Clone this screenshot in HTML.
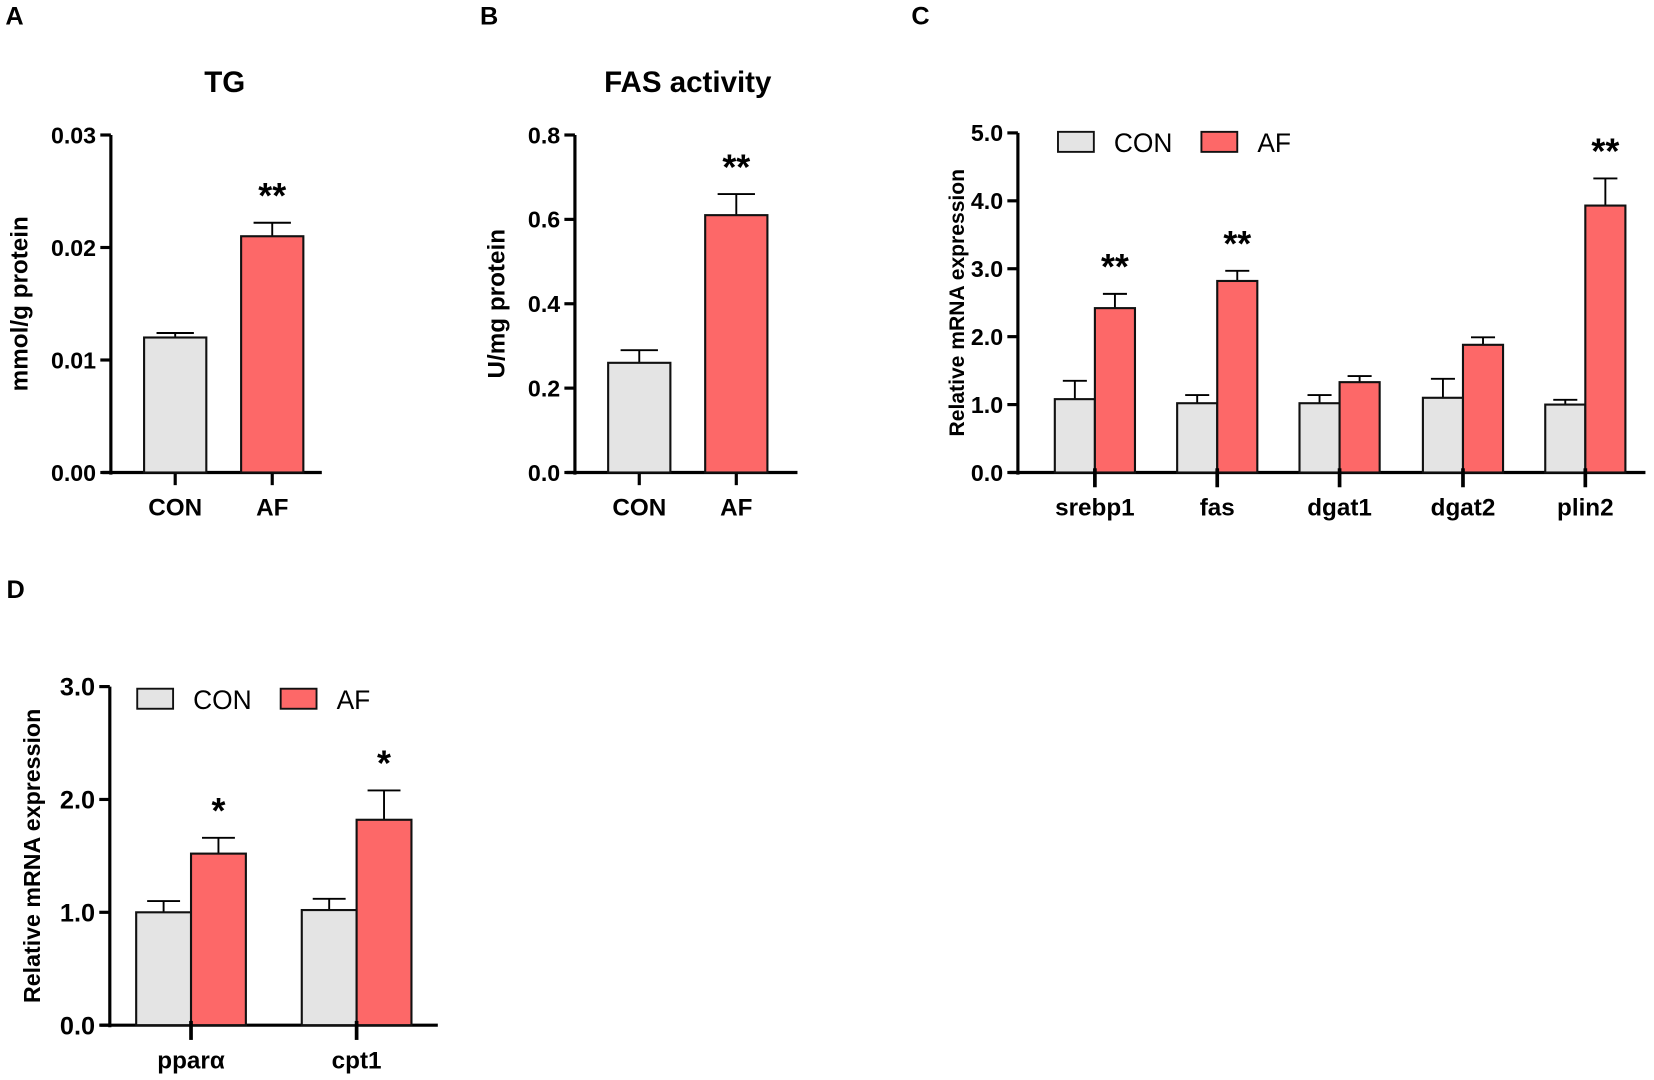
<!DOCTYPE html>
<html><head><meta charset="utf-8"><style>
html,body{margin:0;padding:0;background:#fff}
svg{display:block}
text{font-family:"Liberation Sans",Arial,sans-serif;fill:#000}
</style></head><body>
<svg id="fig" width="1654" height="1080" viewBox="0 0 1568 1024" xmlns="http://www.w3.org/2000/svg"></svg>
<script>
// Panel A data
const aCategories = ["CON","AF"];
const aValues = [0.012, 0.021];
const aErrors = [0.0004, 0.0012];
const aTicks = [0, 0.01, 0.02, 0.03];
const aTickLabels = ["0.00","0.01","0.02","0.03"];
const aStars = ["", "**"];
// Panel B data
const bCategories = ["CON","AF"];
const bValues = [0.26, 0.61];
const bErrors = [0.03, 0.05];
const bTicks = [0, 0.2, 0.4, 0.6, 0.8];
const bTickLabels = ["0.0","0.2","0.4","0.6","0.8"];
const bStars = ["", "**"];
// Panel C data
const cCategories = ["srebp1","fas","dgat1","dgat2","plin2"];
const cCon = [1.08, 1.02, 1.02, 1.10, 1.00];
const cConErr = [0.27, 0.12, 0.12, 0.28, 0.07];
const cAf = [2.42, 2.82, 1.33, 1.88, 3.93];
const cAfErr = [0.21, 0.15, 0.09, 0.11, 0.40];
const cTicks = [0,1,2,3,4,5];
const cTickLabels = ["0.0","1.0","2.0","3.0","4.0","5.0"];
const cStars = ["**","**","","","**"];
// Panel D data
const dCategories = ["pparα","cpt1"];
const dCon = [1.00, 1.02];
const dConErr = [0.10, 0.10];
const dAf = [1.52, 1.82];
const dAfErr = [0.14, 0.26];
const dTicks = [0,1,2,3];
const dTickLabels = ["0.0","1.0","2.0","3.0"];
const dStars = ["*","*"];

const NS="http://www.w3.org/2000/svg";
const svg=document.getElementById('fig');
function mk(tag,attrs,parent,txt){const e=document.createElementNS(NS,tag);for(const k in attrs)e.setAttribute(k,attrs[k]);if(txt!==undefined)e.textContent=txt;(parent||svg).appendChild(e);return e;}
const GREY="#e4e4e4", RED="#fd6868";

function yScale(ax){return v=>ax.y0-(v-ax.min)/(ax.max-ax.min)*(ax.y0-ax.yTop);}

function axes(g,ax,ticks,labels,tickFont){
  const y=yScale(ax);
  let l=mk('line',{x1:ax.x,x2:ax.x,y1:ax.yTop,y2:ax.y0+2,stroke:'#000','stroke-width':3},g);
  
  
  l=mk('line',{x1:ax.xStart,x2:ax.xEnd,y1:ax.y0,y2:ax.y0,stroke:'#000','stroke-width':3},g);
  
  
  ticks.forEach((t,i)=>{
    const ty=y(t);
    const tk=mk('line',{x1:ax.x-10,x2:ax.x,y1:ty,y2:ty,stroke:'#000','stroke-width':3},g);
    
    
    const tl=mk('text',{x:ax.x-14,y:ty+tickFont*0.36,'text-anchor':'end','font-size':tickFont,'font-weight':'bold'},g,labels[i]);
    
    
  });
}
function bar(g,x,w,v,err,color,ax,name){
  const y=yScale(ax);
  const top=y(v), et=y(v+err), cx=x+w/2;
  const e=mk('path',{d:`M${cx},${top}V${et}M${cx-w*0.3},${et}H${cx+w*0.3}`,stroke:'#000','stroke-width':1.8,fill:'none'},g);
  
  
  const r=mk('rect',{x:x,y:top,width:w,height:ax.y0-top,fill:color,stroke:'#111','stroke-width':2},g);
  
  
  return {cx,et};
}
function star(g,cx,y,s){
  if(!s)return;
  const t=mk('text',{x:cx,y:y,'text-anchor':'middle','font-size':34,'font-weight':'bold'},g,s);
  
  
}
function catLabel(g,cx,y,s){
  const t=mk('text',{x:cx,y:y,'text-anchor':'middle','font-size':23,'font-weight':'bold'},g,s);
  
  
}
function ylab(g,x,cy,s,fs){
  const t=mk('text',{x:x,y:cy,'text-anchor':'middle','font-size':fs,'font-weight':'bold',transform:`rotate(-90 ${x} ${cy})`},g,s);
  
  
}
function panelLetter(x,y,s){
  const t=mk('text',{x:x,y:y,'font-size':24,'font-weight':'bold'},svg,s);
  
  
}
function title(g,x,y,s){
  const t=mk('text',{x:x,y:y,'text-anchor':'middle','font-size':28,'font-weight':'bold'},g,s);
  
  
}
function legend(g,x,y){
  const items=[["CON",GREY,0],["AF",RED,136]];
  items.forEach(([s,c,dx])=>{
    const lg=mk('g',{},g);
    
    
    mk('rect',{x:x+dx,y:y,width:34,height:19,fill:c,stroke:'#111','stroke-width':1.8},lg);
    mk('text',{x:x+dx+53,y:y+19,'font-size':25},lg,s);
  });
}
function simple(name,ax,cats,vals,errs,ticks,labels,stars,centers,w,colors,ttl,tx,ylabel,ylx){
  const g=mk('g',{});
  
  
  title(g,tx,87,ttl);
  axes(g,ax,ticks,labels,22);
  cats.forEach((c,i)=>{
    const cx=centers[i];
    const tk=mk('line',{x1:cx,x2:cx,y1:ax.y0,y2:ax.y0+12,stroke:'#000','stroke-width':3},g);
    
    
    const b=bar(g,cx-w/2,w,vals[i],errs[i],colors[i],ax,'bar-'+c.toLowerCase());
    star(g,cx,b.et-14,stars[i]);
    catLabel(g,cx,489,c);
  });
  ylab(g,ylx,(ax.y0+ax.yTop)/2,ylabel,23);
}
simple('panel-a-tg-chart',{x:105,xStart:97,xEnd:305,y0:448,yTop:128,min:0,max:0.03},aCategories,aValues,aErrors,aTicks,aTickLabels,aStars,[166,258],59,[GREY,RED],"TG",213,"mmol/g protein",26);
simple('panel-b-fas-chart',{x:545,xStart:537,xEnd:756,y0:448,yTop:128,min:0,max:0.8},bCategories,bValues,bErrors,bTicks,bTickLabels,bStars,[606,698],59,[GREY,RED],"FAS activity",652,"U/mg protein",478);

function grouped(name,ax,cats,con,conE,af,afE,ticks,labels,stars,centers,w,ylx,lx,ly,catY,tf,yf){
  const g=mk('g',{});
  
  
  axes(g,ax,ticks,labels,tf);
  legend(g,lx,ly);
  cats.forEach((c,i)=>{
    const cx=centers[i];
    bar(g,cx-w,w,con[i],conE[i],GREY,ax,'bar-'+c+'-con');
    const b=bar(g,cx,w,af[i],afE[i],RED,ax,'bar-'+c+'-af');
    const tk=mk('line',{x1:cx,x2:cx,y1:ax.y0-4,y2:ax.y0+14,stroke:'#000','stroke-width':3.5},g);
    
    
    star(g,cx+w/2,b.et-14,stars[i]);
    catLabel(g,cx,catY,c);
  });
  ylab(g,ylx,(ax.y0+ax.yTop)/2,"Relative  mRNA expression",yf);
}
grouped('panel-c-lipogenesis-chart',{x:965,xStart:957,xEnd:1560,y0:448,yTop:126,min:0,max:5},cCategories,cCon,cConErr,cAf,cAfErr,cTicks,cTickLabels,cStars,[1038,1154,1270,1387,1503],38,914,1003,125,489,22,20);
grouped('panel-d-oxidation-chart',{x:104,xStart:95,xEnd:415,y0:972,yTop:651,min:0,max:3},dCategories,dCon,dConErr,dAf,dAfErr,dTicks,dTickLabels,dStars,[181,338],52,38,130,653,1013,24,22);

panelLetter(5,23,"A");panelLetter(455,23,"B");panelLetter(864,23,"C");panelLetter(6,567,"D");
</script>
</body></html>
